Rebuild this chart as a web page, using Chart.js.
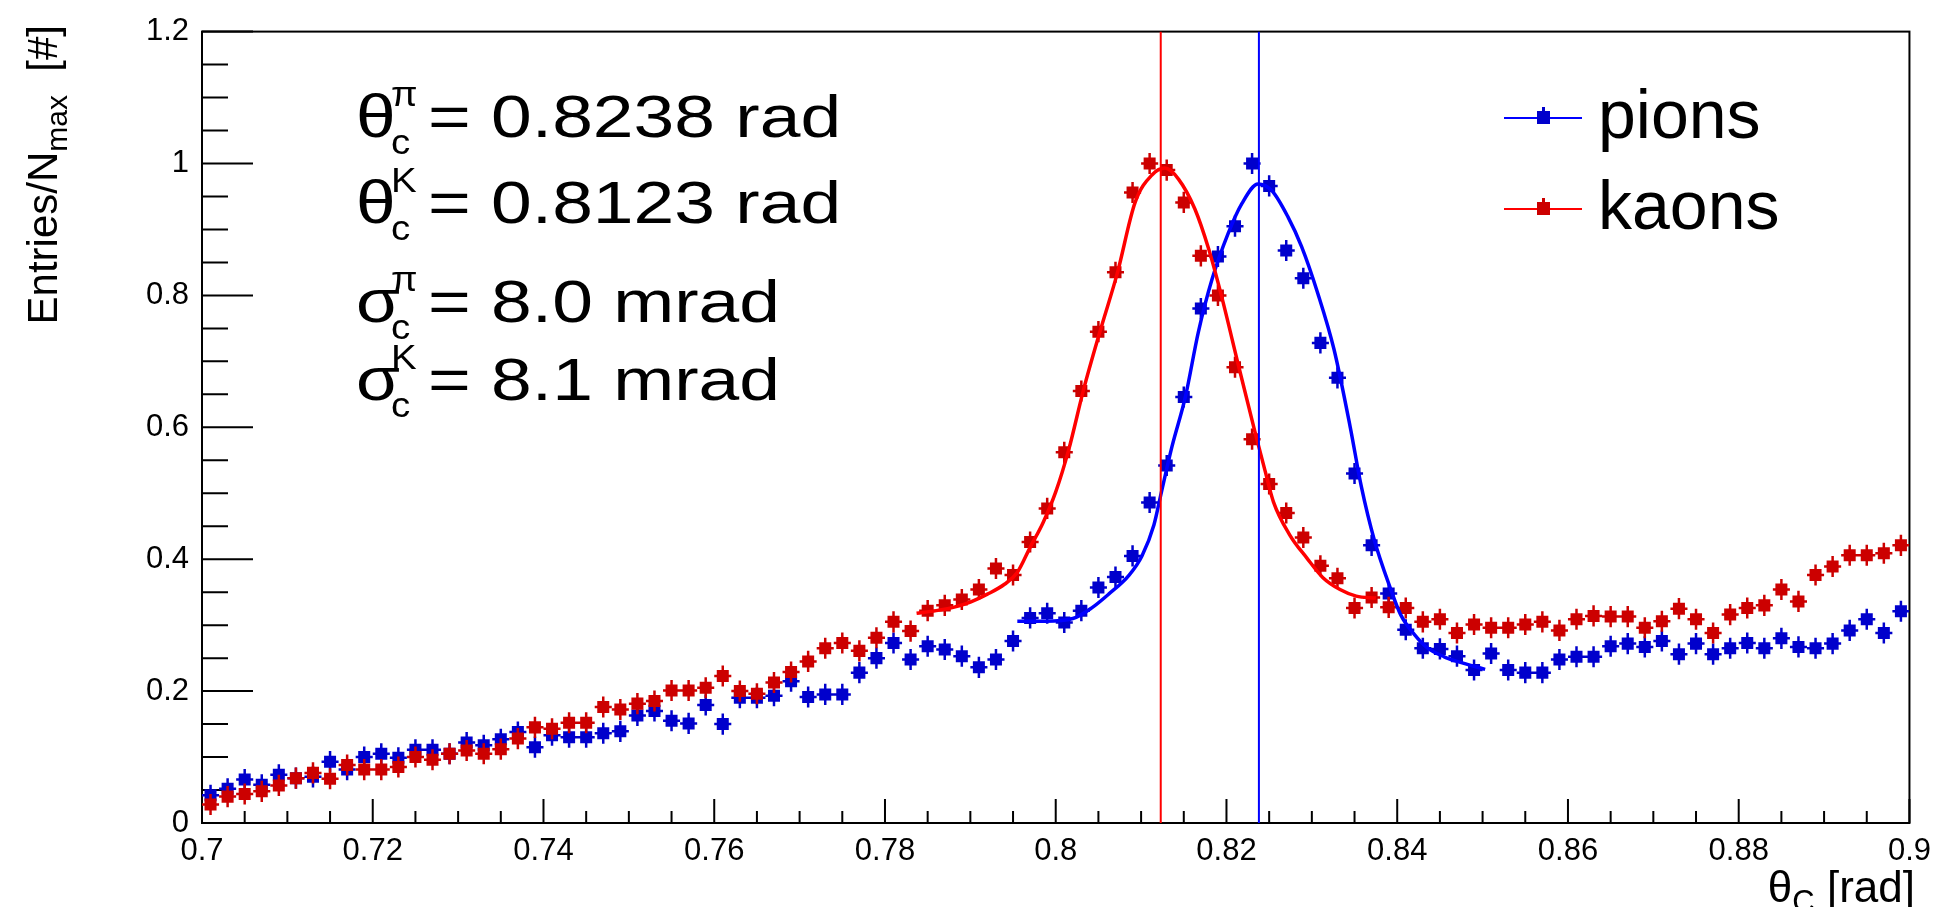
<!DOCTYPE html>
<html>
<head>
<meta charset="utf-8">
<script src="https://cdn.jsdelivr.net/npm/chart.js@4.4.1/dist/chart.umd.min.js"></script>
<style>
  html, body { margin: 0; padding: 0; background: #fff; }
  #wrap { width: 1941px; height: 907px; position: relative; }
</style>
</head>
<body>
<div id="wrap"><canvas id="chart"></canvas></div>
<script>
// Bin centres (0.002 rad bins, 0.7 - 0.9)
const binCenters = [
  0.701, 0.703, 0.705, 0.707, 0.709, 0.711, 0.713, 0.715, 0.717, 0.719,
  0.721, 0.723, 0.725, 0.727, 0.729, 0.731, 0.733, 0.735, 0.737, 0.739,
  0.741, 0.743, 0.745, 0.747, 0.749, 0.751, 0.753, 0.755, 0.757, 0.759,
  0.761, 0.763, 0.765, 0.767, 0.769, 0.771, 0.773, 0.775, 0.777, 0.779,
  0.781, 0.783, 0.785, 0.787, 0.789, 0.791, 0.793, 0.795, 0.797, 0.799,
  0.801, 0.803, 0.805, 0.807, 0.809, 0.811, 0.813, 0.815, 0.817, 0.819,
  0.821, 0.823, 0.825, 0.827, 0.829, 0.831, 0.833, 0.835, 0.837, 0.839,
  0.841, 0.843, 0.845, 0.847, 0.849, 0.851, 0.853, 0.855, 0.857, 0.859,
  0.861, 0.863, 0.865, 0.867, 0.869, 0.871, 0.873, 0.875, 0.877, 0.879,
  0.881, 0.883, 0.885, 0.887, 0.889, 0.891, 0.893, 0.895, 0.897, 0.899,
];

// Entries / N_max, pions
const pionValues = [
  0.042, 0.052, 0.066, 0.058, 0.073, 0.068, 0.070, 0.093, 0.081, 0.100,
  0.105, 0.099, 0.111, 0.111, 0.105, 0.122, 0.118, 0.127, 0.138, 0.115,
  0.133, 0.130, 0.130, 0.136, 0.139, 0.163, 0.170, 0.155, 0.151, 0.179,
  0.150, 0.190, 0.190, 0.193, 0.215, 0.191, 0.195, 0.195, 0.228, 0.250,
  0.273, 0.248, 0.268, 0.263, 0.253, 0.236, 0.248, 0.276, 0.311, 0.318,
  0.304, 0.322, 0.357, 0.373, 0.405, 0.486, 0.542, 0.646, 0.780, 0.859,
  0.905, 1.000, 0.966, 0.868, 0.826, 0.728, 0.675, 0.530, 0.421, 0.348,
  0.293, 0.265, 0.264, 0.253, 0.232, 0.257, 0.232, 0.228, 0.228, 0.248,
  0.252, 0.252, 0.268, 0.272, 0.267, 0.276, 0.256, 0.272, 0.256, 0.265,
  0.273, 0.265, 0.280, 0.267, 0.265, 0.272, 0.292, 0.309, 0.288, 0.321,
];

// Entries / N_max, kaons
const kaonValues = [
  0.028, 0.040, 0.044, 0.048, 0.057, 0.068, 0.076, 0.067, 0.088, 0.081,
  0.081, 0.085, 0.100, 0.096, 0.105, 0.110, 0.105, 0.112, 0.128, 0.145,
  0.143, 0.152, 0.152, 0.176, 0.172, 0.181, 0.185, 0.201, 0.201, 0.205,
  0.223, 0.200, 0.196, 0.213, 0.229, 0.245, 0.265, 0.273, 0.261, 0.281,
  0.305, 0.291, 0.322, 0.330, 0.339, 0.354, 0.386, 0.376, 0.426, 0.477,
  0.562, 0.655, 0.745, 0.835, 0.956, 1.000, 0.990, 0.941, 0.860, 0.800,
  0.691, 0.582, 0.514, 0.470, 0.433, 0.390, 0.371, 0.326, 0.342, 0.327,
  0.326, 0.305, 0.309, 0.288, 0.301, 0.296, 0.296, 0.301, 0.305, 0.292,
  0.309, 0.314, 0.313, 0.313, 0.296, 0.306, 0.325, 0.309, 0.288, 0.316,
  0.326, 0.330, 0.354, 0.336, 0.376, 0.389, 0.406, 0.406, 0.409, 0.421,
];

// Fit curves
const pionFitX = [
  0.7955, 0.7988, 0.8020, 0.8043, 0.8062, 0.8086, 0.8101, 0.8115, 0.8124, 0.8136,
  0.8152, 0.8167, 0.8183, 0.8202, 0.8218, 0.8237, 0.8253, 0.8272, 0.8288, 0.8307,
  0.8326, 0.8345, 0.8358, 0.8373, 0.8392, 0.8404, 0.8420, 0.8435, 0.8455, 0.8470, 0.8503,
];
const pionFitY = [
  0.306, 0.306, 0.310, 0.327, 0.347, 0.376, 0.405, 0.452, 0.503, 0.570,
  0.647, 0.744, 0.824, 0.894, 0.939, 0.969, 0.959, 0.919, 0.874, 0.803,
  0.718, 0.600, 0.510, 0.430, 0.356, 0.316, 0.286, 0.266, 0.252, 0.245, 0.233,
];
const kaonFitX = [
  0.7837, 0.7860, 0.7880, 0.7900, 0.7920, 0.7940, 0.7955, 0.7970, 0.7985, 0.8000,
  0.8015, 0.8033, 0.8052, 0.8072, 0.8093, 0.8113, 0.8128, 0.8144, 0.8163, 0.8179,
  0.8194, 0.8214, 0.8233, 0.8245, 0.8255, 0.8274, 0.8294, 0.8313, 0.8333, 0.8352, 0.8375,
];
const kaonFitY = [
  0.318, 0.322, 0.327, 0.335, 0.347, 0.362, 0.380, 0.418, 0.455, 0.502,
  0.565, 0.659, 0.746, 0.833, 0.941, 0.983, 0.993, 0.976, 0.931, 0.871,
  0.800, 0.694, 0.595, 0.535, 0.487, 0.437, 0.402, 0.372, 0.354, 0.344, 0.341,
];

// Fitted Cherenkov angles (vertical lines)
const pionMean = 0.8238;
const kaonMean = 0.8123;

const xTickLabels = ['0.7', '0.72', '0.74', '0.76', '0.78', '0.8', '0.82', '0.84', '0.86', '0.88', '0.9'];
const yTickLabels = ['0', '0.2', '0.4', '0.6', '0.8', '1', '1.2'];

const legendLabels = ['pions', 'kaons'];
const annotationLines = [
  { sym: 'θ', sup: 'π', sub: 'c', text: '= 0.8238 rad' },
  { sym: 'θ', sup: 'K', sub: 'c', text: '= 0.8123 rad' },
  { sym: 'σ', sup: 'π', sub: 'c', text: '= 8.0 mrad' },
  { sym: 'σ', sup: 'K', sub: 'c', text: '= 8.1 mrad' },
];

// Стили
const FONT = '"Liberation Sans", Arial, Helvetica, sans-serif';
const PION_MARKER = '#0000cc';
const KAON_MARKER = '#cc0000';
const PION_LINE = '#0000ff';
const KAON_LINE = '#ff0000';
const BIN_HALF = 0.001;
const ERR_Y = 0.016;

// Error bars for the histogram points
const errorBarPlugin = {
  id: 'errorBars',
  afterDatasetDraw(chart, args) {
    const ds = chart.data.datasets[args.index];
    if (!ds.errorBars) return;
    const { ctx, chartArea: a, scales: { x, y } } = chart;
    ctx.save();
    ctx.beginPath();
    ctx.rect(a.left, a.top, a.right - a.left, a.bottom - a.top);
    ctx.clip();
    ctx.strokeStyle = ds.backgroundColor;
    ctx.lineWidth = 2.5;
    ctx.beginPath();
    ds.data.forEach((p) => {
      const px = x.getPixelForValue(p.x);
      const py = y.getPixelForValue(p.y);
      ctx.moveTo(x.getPixelForValue(p.x - BIN_HALF), py);
      ctx.lineTo(x.getPixelForValue(p.x + BIN_HALF), py);
      ctx.moveTo(px, y.getPixelForValue(p.y - ERR_Y));
      ctx.lineTo(px, y.getPixelForValue(p.y + ERR_Y));
    });
    ctx.stroke();
    ctx.restore();
  },
};

// ROOT-like frame with inward ticks
const frameTicksPlugin = {
  id: 'frameTicks',
  beforeDatasetsDraw(chart) {
    const { ctx, chartArea: a, scales: { x, y } } = chart;
    ctx.save();
    ctx.strokeStyle = '#000';
    ctx.lineWidth = 2;
    ctx.strokeRect(a.left, a.top, a.right - a.left, a.bottom - a.top);
    ctx.beginPath();
    for (let k = 0; k <= 40; k++) {
      const px = x.getPixelForValue(0.7 + k * 0.005);
      const len = k % 4 === 0 ? 24 : 12;
      ctx.moveTo(px, a.bottom);
      ctx.lineTo(px, a.bottom - len);
    }
    for (let k = 0; k <= 24; k++) {
      const py = y.getPixelForValue(k * 0.05);
      const len = k % 4 === 0 ? 51 : 26;
      ctx.moveTo(a.left, py);
      ctx.lineTo(a.left + len, py);
    }
    ctx.stroke();
    ctx.restore();
  },
};

// Texts: annotation, legend, axis titles
const textPlugin = {
  id: 'texts',
  afterDraw(chart) {
    const { ctx } = chart;
    ctx.save();
    ctx.fillStyle = '#000';
    ctx.textBaseline = 'alphabetic';
    ctx.textAlign = 'left';

    // Annotation block
    const baselines = [137, 223, 322, 400];
    annotationLines.forEach((ln, i) => {
      ctx.save();
      ctx.translate(356, baselines[i]);
      ctx.save();
      ctx.scale(1.15, 1);
      ctx.font = `62px ${FONT}`;
      ctx.fillText(ln.sym, 0, 0);
      ctx.restore();
      ctx.save();
      ctx.translate(35, 0);
      ctx.scale(1.1, 1);
      ctx.font = `35px ${FONT}`;
      ctx.fillText(ln.sup, 0, -31);
      ctx.fillText(ln.sub, 0, 17);
      ctx.restore();
      ctx.translate(72, 0);
      ctx.scale(1.22, 1);
      ctx.font = `60px ${FONT}`;
      ctx.fillText(ln.text, 0, 0);
      ctx.restore();
    });

    // Legend
    const legendRows = [
      { y: 118, line: PION_LINE, marker: PION_MARKER },
      { y: 209, line: KAON_LINE, marker: KAON_MARKER },
    ];
    legendRows.forEach((row, i) => {
      ctx.strokeStyle = row.line;
      ctx.lineWidth = 2;
      ctx.beginPath();
      ctx.moveTo(1504, row.y);
      ctx.lineTo(1582, row.y);
      ctx.stroke();
      ctx.fillStyle = row.marker;
      ctx.fillRect(1537, row.y - 7, 13, 13);
      ctx.fillRect(1542, row.y - 11, 3, 6);
      ctx.fillStyle = '#000';
      ctx.font = `68px ${FONT}`;
      ctx.fillText(legendLabels[i], 1598, row.y + 20);
    });

    // X axis title
    const xt1 = 'θ', xt2 = 'C', xt3 = ' [rad]';
    ctx.font = `44px ${FONT}`;
    const w1 = ctx.measureText(xt1).width, w3 = ctx.measureText(xt3).width;
    ctx.font = `31px ${FONT}`;
    const w2 = ctx.measureText(xt2).width;
    const xs = 1915 - (w1 + w2 + w3);
    ctx.font = `44px ${FONT}`;
    ctx.fillText(xt1, xs, 902);
    ctx.font = `31px ${FONT}`;
    ctx.fillText(xt2, xs + w1, 912);
    ctx.font = `44px ${FONT}`;
    ctx.fillText(xt3, xs + w1 + w2, 902);

    // Y axis title (rotated)
    ctx.save();
    ctx.translate(57, 25);
    ctx.rotate(-Math.PI / 2);
    const ya = 'Entries/N', yb = 'max', yc = '  [#]';
    ctx.font = `42px ${FONT}`;
    const wa = ctx.measureText(ya).width, wc = ctx.measureText(yc).width;
    ctx.font = `30px ${FONT}`;
    const wb = ctx.measureText(yb).width;
    const ys = -(wa + wb + wc);
    ctx.font = `42px ${FONT}`;
    ctx.fillText(ya, ys, 0);
    ctx.font = `30px ${FONT}`;
    ctx.fillText(yb, ys + wa, 10);
    ctx.font = `42px ${FONT}`;
    ctx.fillText(yc, ys + wa + wb, 0);
    ctx.restore();

    ctx.restore();
  },
};

const toPoints = (xs, ys) => xs.map((x, i) => ({ x, y: ys[i] }));

const ctx = document.getElementById('chart').getContext('2d');
new Chart(ctx, {
  type: 'scatter',
  data: {
    datasets: [
      {
        label: 'kaon mean',
        data: [{ x: kaonMean, y: 0 }, { x: kaonMean, y: 1.2 }],
        showLine: true,
        borderColor: KAON_LINE,
        borderWidth: 2,
        pointRadius: 0,
      },
      {
        label: 'pion mean',
        data: [{ x: pionMean, y: 0 }, { x: pionMean, y: 1.2 }],
        showLine: true,
        borderColor: PION_LINE,
        borderWidth: 2,
        pointRadius: 0,
      },
      {
        label: 'kaon fit',
        data: toPoints(kaonFitX, kaonFitY),
        showLine: true,
        borderColor: KAON_LINE,
        borderWidth: 3.5,
        pointRadius: 0,
        cubicInterpolationMode: 'monotone',
      },
      {
        label: 'pion fit',
        data: toPoints(pionFitX, pionFitY),
        showLine: true,
        borderColor: PION_LINE,
        borderWidth: 3.5,
        pointRadius: 0,
        cubicInterpolationMode: 'monotone',
      },
      {
        label: legendLabels[1],
        data: toPoints(binCenters, kaonValues),
        pointStyle: 'rect',
        pointRadius: 8.5,
        borderWidth: 0,
        backgroundColor: KAON_MARKER,
        errorBars: true,
      },
      {
        label: legendLabels[0],
        data: toPoints(binCenters, pionValues),
        pointStyle: 'rect',
        pointRadius: 8.5,
        borderWidth: 0,
        backgroundColor: PION_MARKER,
        errorBars: true,
      },
    ],
  },
  options: {
    animation: false,
    responsive: true,
    maintainAspectRatio: false,
    events: [],
    layout: { padding: { left: 0, top: 27, right: 23, bottom: 0 } },
    plugins: {
      legend: { display: false },
      tooltip: { enabled: false },
      title: { display: false },
    },
    scales: {
      x: {
        type: 'linear',
        min: 0.7,
        max: 0.9,
        grid: { display: false, drawTicks: false },
        border: { display: false },
        ticks: {
          stepSize: 0.02,
          autoSkip: false,
          maxRotation: 0,
          padding: 10,
          color: '#000',
          font: { family: FONT, size: 31 },
          callback: (value, index) => xTickLabels[index] ?? '',
        },
        afterFit: (scale) => { scale.height = 84; },
      },
      y: {
        type: 'linear',
        min: 0,
        max: 1.2,
        grid: { display: false, drawTicks: false },
        border: { display: false },
        ticks: {
          stepSize: 0.2,
          autoSkip: false,
          padding: 13,
          color: '#000',
          font: { family: FONT, size: 31 },
          callback: (value, index) => yTickLabels[index] ?? '',
        },
        afterFit: (scale) => { scale.width = 202; },
      },
    },
  },
  plugins: [frameTicksPlugin, errorBarPlugin, textPlugin],
});
</script>
</body>
</html>
